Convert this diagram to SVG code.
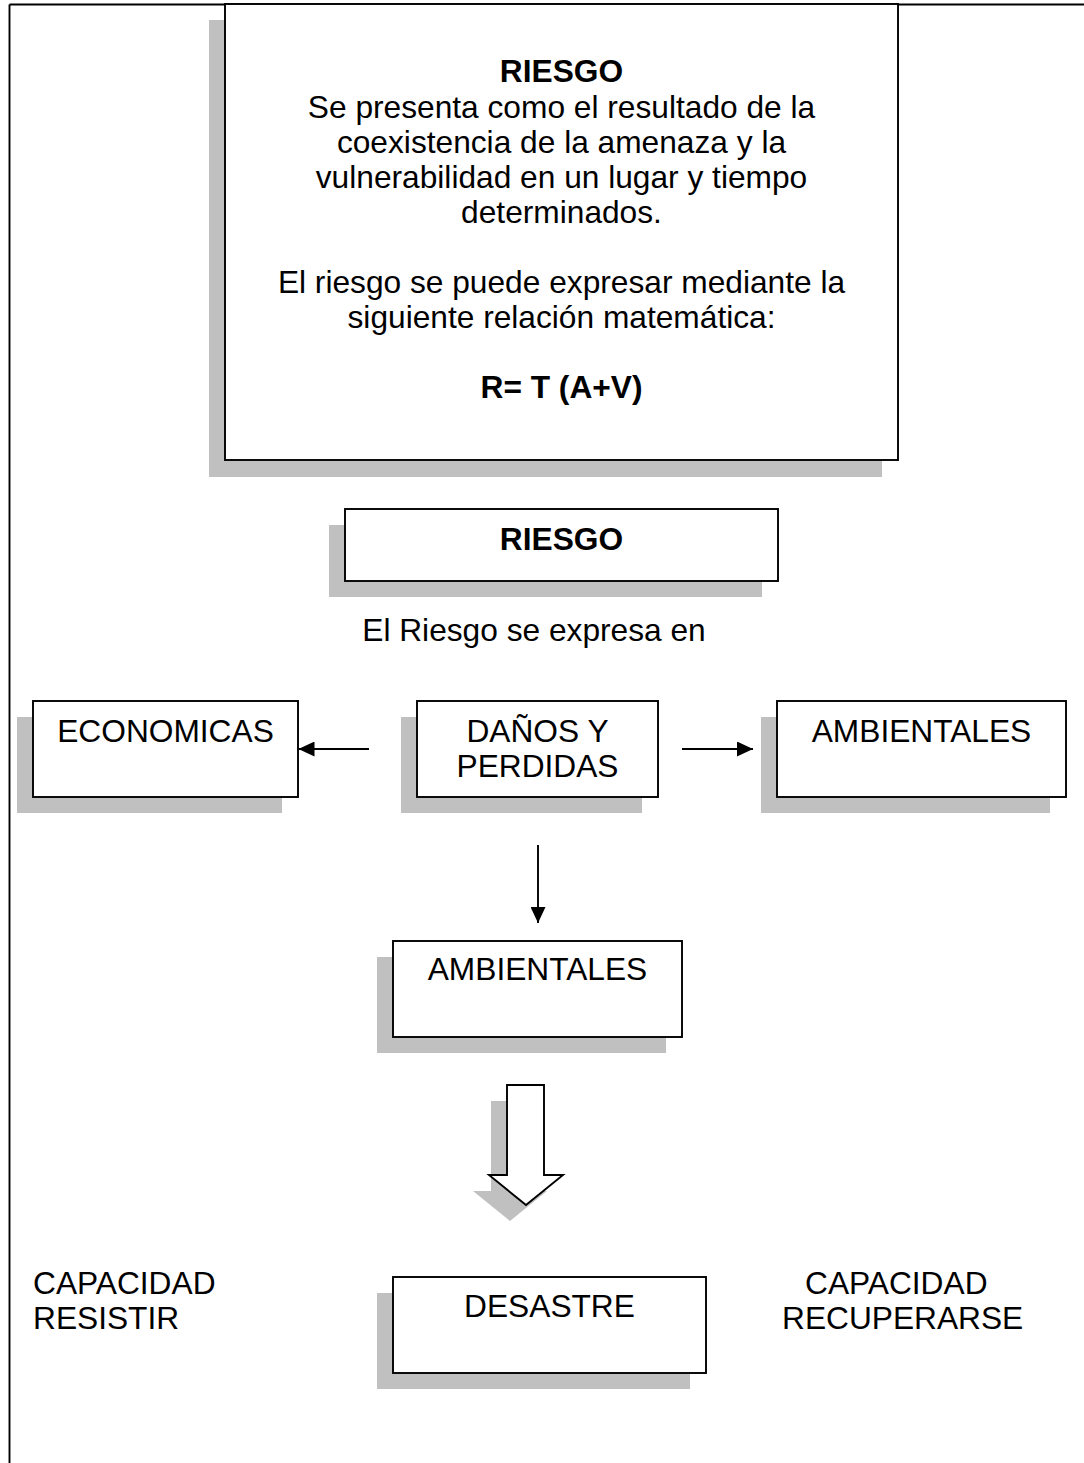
<svg xmlns="http://www.w3.org/2000/svg" width="1084" height="1463" viewBox="0 0 1084 1463">
<defs>
<style>
.sh{fill:#c0c0c0;stroke:none}
.bx{fill:#ffffff;stroke:#000000;stroke-width:1.9}
.t{font-family:"Liberation Sans",Arial,sans-serif;font-size:31.7px;fill:#000000}
.c{text-anchor:middle}
.b{font-weight:bold}
.ln{stroke:#000000;stroke-width:1.9;fill:none}
</style>
<marker id="ah" viewBox="0 0 16 15" refX="16" refY="7.5" markerWidth="16" markerHeight="15" markerUnits="userSpaceOnUse" orient="auto">
<path d="M0,0 L16,7.5 L0,15 Z" fill="#000000"/>
</marker>
</defs>
<rect x="0" y="0" width="1084" height="1463" fill="#ffffff"/>
<g id="frame">
<line x1="9.5" y1="4.5" x2="1084" y2="4.5" class="ln" stroke-width="1.4"/>
<line x1="9.5" y1="4.5" x2="9.5" y2="1463" class="ln" stroke-width="1.4"/>
</g>
<g id="node-riesgo-def">
<rect x="209" y="20" width="673" height="457" class="sh"/>
<rect x="225" y="4" width="673" height="456" class="bx"/>
<text class="t c b" x="561.5" y="82">RIESGO</text>
<text class="t c" x="561.5" y="118">Se presenta como el resultado de la</text>
<text class="t c" x="561.5" y="153">coexistencia de la amenaza y la</text>
<text class="t c" x="561.5" y="188">vulnerabilidad en un lugar y tiempo</text>
<text class="t c" x="561.5" y="223">determinados.</text>
<text class="t c" x="561.5" y="293">El riesgo se puede expresar mediante la</text>
<text class="t c" x="561.5" y="328">siguiente relación matemática:</text>
<text class="t c b" x="561.5" y="398">R= T (A+V)</text>
</g>
<g id="node-riesgo">
<rect x="329" y="525" width="433" height="72" class="sh"/>
<rect x="345" y="509" width="433" height="72" class="bx"/>
<text class="t c b" x="561.5" y="550">RIESGO</text>
</g>
<g id="label-expresa">
<text class="t c" x="534" y="641">El Riesgo se expresa en</text>
</g>
<g id="node-economicas">
<rect x="17" y="717" width="265" height="96" class="sh"/>
<rect x="33" y="701" width="265" height="96" class="bx"/>
<text class="t c" x="165.5" y="742">ECONOMICAS</text>
</g>
<g id="node-danos">
<rect x="401" y="717" width="241" height="96" class="sh"/>
<rect x="417" y="701" width="241" height="96" class="bx"/>
<text class="t c" x="537.5" y="742">DAÑOS Y</text>
<text class="t c" x="537.5" y="777">PERDIDAS</text>
</g>
<g id="node-ambientales-right">
<rect x="761" y="717" width="289" height="96" class="sh"/>
<rect x="777" y="701" width="289" height="96" class="bx"/>
<text class="t c" x="921.5" y="742">AMBIENTALES</text>
</g>
<g id="node-ambientales-center">
<rect x="377" y="957" width="289" height="96" class="sh"/>
<rect x="393" y="941" width="289" height="96" class="bx"/>
<text class="t c" x="537.5" y="980">AMBIENTALES</text>
</g>
<g id="node-desastre">
<rect x="377" y="1293" width="313" height="96" class="sh"/>
<rect x="393" y="1277" width="313" height="96" class="bx"/>
<text class="t c" x="549.5" y="1317">DESASTRE</text>
</g>
<g id="node-capacidad-resistir">
<text class="t" x="33" y="1294">CAPACIDAD</text>
<text class="t" x="33" y="1329">RESISTIR</text>
</g>
<g id="node-capacidad-recuperarse">
<text class="t" x="805" y="1294">CAPACIDAD</text>
<text class="t" x="782" y="1329">RECUPERARSE</text>
</g>
<g id="connectors">
<line x1="369" y1="749" x2="298.5" y2="749" class="ln" marker-end="url(#ah)"/>
<line x1="682" y1="749" x2="753" y2="749" class="ln" marker-end="url(#ah)"/>
<line x1="538" y1="845" x2="538" y2="923" class="ln" marker-end="url(#ah)"/>
<path d="M507,1085 H544 V1175 H563 L526,1205 L489,1175 H507 Z" class="sh" transform="translate(-16,16)"/>
<path d="M507,1085 H544 V1175 H563 L526,1205 L489,1175 H507 Z" class="bx"/>
</g>
</svg>
